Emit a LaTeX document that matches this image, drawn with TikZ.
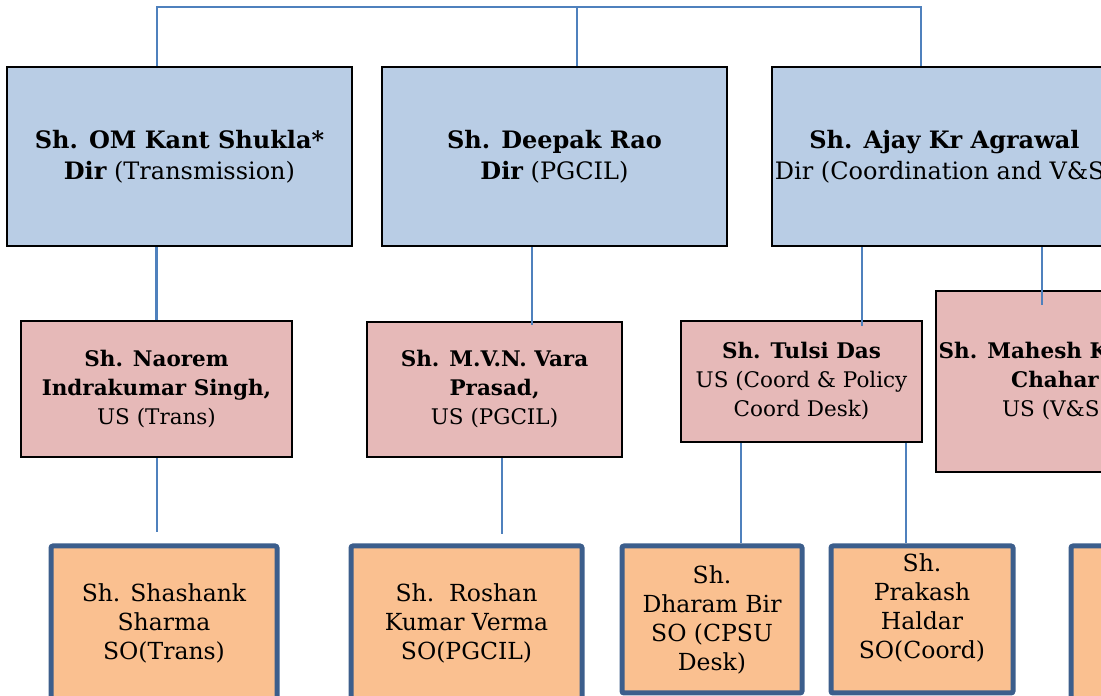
\documentclass[tikz,border=0pt]{standalone}
\usepackage{fontspec}
\setmainfont{DejaVu Serif}
\usepackage{tikz}
\definecolor{dirblue}{HTML}{B9CDE5}
\definecolor{uspink}{HTML}{E6B9B8}
\definecolor{soorange}{HTML}{FAC090}
\definecolor{soedge}{HTML}{3C5E8C}
\definecolor{linkblue}{HTML}{4F81BD}

\begin{document}
\begin{tikzpicture}[x=1pt,y=1pt,
	dirbox/.style={draw=black,line width=2.8pt,fill=dirblue,align=center,inner sep=0pt,
		minimum width=345,minimum height=179,font=\fontsize{24}{31}\selectfont},
	usbox/.style={draw=black,line width=2.8pt,fill=uspink,align=center,inner sep=0pt,
		font=\fontsize{21.5}{29}\selectfont},
	sobox/.style={draw=soedge,line width=5pt,fill=soorange,rounded corners=2pt,align=center,inner sep=0pt,
		font=\fontsize{23.5}{29}\selectfont},
	link/.style={draw=linkblue,line width=2.8pt}]
		\useasboundingbox (0,0) rectangle (1101,696);
		\clip (0,0) rectangle (1101,696);
		% directors
		\node[dirbox] (dir_trans) at (179.5,539.5) {\bfseries Sh. OM Kant Shukla*\\{\bfseries Dir} (Transmission)};
		\node[dirbox] (dir_pgcil) at (554.5,539.5) {\bfseries Sh. Deepak Rao\\{\bfseries Dir} (PGCIL)};
		\node[dirbox] (dir_coord) at (944.5,539.5) {\bfseries Sh. Ajay Kr Agrawal\\Dir (Coordination and V\&S)};
		% under secretaries
		\node[usbox,minimum width=271,minimum height=136] (us_trans) at (156.5,307) {\bfseries Sh. Naorem\\{\bfseries Indrakumar Singh,}\\US (Trans)};
		\node[usbox,minimum width=255,minimum height=135] (us_pgcil) at (494.5,306.5) {\bfseries Sh. M.V.N. Vara\\{\bfseries Prasad,}\\US (PGCIL)};
		\node[usbox,minimum width=241,minimum height=121] (us_coord) at (801.5,314.5) {\bfseries Sh. Tulsi Das\\US (Coord \& Policy\\Coord Desk)};
		\node[usbox,minimum width=238,minimum height=181] (us_vs) at (1055,314.5) {\bfseries Sh. Mahesh Kumar\\{\bfseries Chahar}\\US (V\&S)};
		% section officers
		\node[sobox,minimum width=226,minimum height=154] (so_trans) at (164,73) {Sh. Shashank\\Sharma\\SO(Trans)};
		\node[sobox,minimum width=231,minimum height=154] (so_pgcil) at (466.5,73) {Sh.~~Roshan\\Kumar Verma\\SO(PGCIL)};
		\node[sobox,minimum width=180,minimum height=147] (so_cpsu) at (712,76.5) {Sh.\\Dharam Bir\\SO (CPSU\\Desk)};
		\node[sobox,minimum width=182,minimum height=147] (so_coord) at (922,76.5) {Sh.\\Prakash\\Haldar\\SO(Coord)\\[-11pt]\strut};
		\node[sobox,minimum width=226,minimum height=154] (so_vs) at (1184,73) {};
		% bus on top
		\coordinate (bus_l) at (157,689);
		\coordinate (bus_m) at (577,689);
		\coordinate (bus_r) at (921,689);
		\draw[link] (bus_l |- dir_trans.north) -- (bus_l) -- (bus_r) -- (bus_r |- dir_coord.north);
		\draw[link] (bus_m) -- (bus_m |- dir_pgcil.north);
		% down the lines
		\draw[link] (us_trans.north |- dir_trans.south) -- (us_trans.north);
		\draw[link] ([xshift=-22.5]dir_pgcil.south) -- ([xshift=37.5,yshift=-4]us_pgcil.north);
		\draw[link] ([xshift=-82.5]dir_coord.south) -- ([xshift=60.5,yshift=-6]us_coord.north);
		\draw[link] ([xshift=97.5]dir_coord.south) -- ([xshift=-13,yshift=-15]us_vs.north);
		\draw[link] ([xshift=0.5]us_trans.south) -- ([xshift=-7,yshift=11]so_trans.north);
		\draw[link] ([xshift=7.5]us_pgcil.south) -- ([xshift=35.5,yshift=9]so_pgcil.north);
		\draw[link] ([xshift=-60.5]us_coord.south) -- ([xshift=29]so_cpsu.north);
		\draw[link] ([xshift=104.5]us_coord.south) -- ([xshift=-16]so_coord.north);
	\end{tikzpicture}
\end{document}
